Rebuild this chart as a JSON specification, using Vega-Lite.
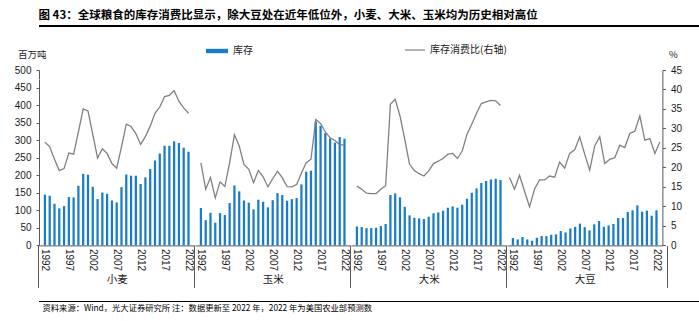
{
  "$schema": "https://vega.github.io/schema/vega-lite/v6.json",
  "padding": {"left": 5, "right": 5, "top": 10, "bottom": 3},
  "background": "#ffffff",
  "datasets": {
    "d": [
      {"crop":"小麦","year":1992,"stock":144.5,"ratio":26.5},{"crop":"小麦","year":1993,"stock":141.6,"ratio":25.3},{"crop":"小麦","year":1994,"stock":118.8,"ratio":22.1},{"crop":"小麦","year":1995,"stock":105.5,"ratio":19.2},{"crop":"小麦","year":1996,"stock":112,"ratio":19.7},{"crop":"小麦","year":1997,"stock":137.8,"ratio":23.7},{"crop":"小麦","year":1998,"stock":136.9,"ratio":23.4},{"crop":"小麦","year":1999,"stock":170,"ratio":29.1},{"crop":"小麦","year":2000,"stock":204,"ratio":35.0},{"crop":"小麦","year":2001,"stock":201.5,"ratio":34.5},{"crop":"小麦","year":2002,"stock":167,"ratio":28.5},{"crop":"小麦","year":2003,"stock":132,"ratio":22.4},{"crop":"小麦","year":2004,"stock":151,"ratio":24.8},{"crop":"小麦","year":2005,"stock":147,"ratio":23.6},{"crop":"小麦","year":2006,"stock":128,"ratio":21.0},{"crop":"小麦","year":2007,"stock":122.6,"ratio":19.8},{"crop":"小麦","year":2008,"stock":166,"ratio":25.3},{"crop":"小麦","year":2009,"stock":202,"ratio":31.1},{"crop":"小麦","year":2010,"stock":198.7,"ratio":30.5},{"crop":"小麦","year":2011,"stock":198.7,"ratio":28.7},{"crop":"小麦","year":2012,"stock":175,"ratio":25.9},{"crop":"小麦","year":2013,"stock":194,"ratio":27.9},{"crop":"小麦","year":2014,"stock":217.7,"ratio":30.6},{"crop":"小麦","year":2015,"stock":242,"ratio":33.9},{"crop":"小麦","year":2016,"stock":262,"ratio":35.5},{"crop":"小麦","year":2017,"stock":284,"ratio":38.2},{"crop":"小麦","year":2018,"stock":284,"ratio":38.5},{"crop":"小麦","year":2019,"stock":296.6,"ratio":39.7},{"crop":"小麦","year":2020,"stock":291.8,"ratio":37.0},{"crop":"小麦","year":2021,"stock":278.5,"ratio":35.3},{"crop":"小麦","year":2022,"stock":267,"ratio":33.9},
      {"crop":"玉米","year":1992,"stock":106.5,"ratio":21.2},{"crop":"玉米","year":1993,"stock":72,"ratio":14.4},{"crop":"玉米","year":1994,"stock":93,"ratio":17.4},{"crop":"玉米","year":1995,"stock":64.6,"ratio":12.2},{"crop":"玉米","year":1996,"stock":92,"ratio":16.3},{"crop":"玉米","year":1997,"stock":86.5,"ratio":15.1},{"crop":"玉米","year":1998,"stock":120.7,"ratio":21.2},{"crop":"玉米","year":1999,"stock":171,"ratio":28.4},{"crop":"玉米","year":2000,"stock":154,"ratio":25.5},{"crop":"玉米","year":2001,"stock":128,"ratio":20.8},{"crop":"玉米","year":2002,"stock":121.7,"ratio":19.5},{"crop":"玉米","year":2003,"stock":102.7,"ratio":16.1},{"crop":"玉米","year":2004,"stock":130,"ratio":19.2},{"crop":"玉米","year":2005,"stock":124.5,"ratio":17.6},{"crop":"玉米","year":2006,"stock":108.4,"ratio":15.0},{"crop":"玉米","year":2007,"stock":129,"ratio":17.1},{"crop":"玉米","year":2008,"stock":149,"ratio":19.0},{"crop":"玉米","year":2009,"stock":143.5,"ratio":17.4},{"crop":"玉米","year":2010,"stock":127.4,"ratio":15.1},{"crop":"玉米","year":2011,"stock":132,"ratio":15.0},{"crop":"玉米","year":2012,"stock":135,"ratio":15.6},{"crop":"玉米","year":2013,"stock":174,"ratio":18.6},{"crop":"玉米","year":2014,"stock":210,"ratio":21.2},{"crop":"玉米","year":2015,"stock":213,"ratio":22.1},{"crop":"玉米","year":2016,"stock":352.7,"ratio":32.3},{"crop":"玉米","year":2017,"stock":341,"ratio":31.3},{"crop":"玉米","year":2018,"stock":320,"ratio":29.1},{"crop":"玉米","year":2019,"stock":305,"ratio":27.6},{"crop":"玉米","year":2020,"stock":292.8,"ratio":26.9},{"crop":"玉米","year":2021,"stock":309,"ratio":25.8},{"crop":"玉米","year":2022,"stock":304,"ratio":25.8},
      {"crop":"大米","year":1992,"stock":54,"ratio":15.2},{"crop":"大米","year":1993,"stock":52.3,"ratio":14.4},{"crop":"大米","year":1994,"stock":49.4,"ratio":13.4},{"crop":"大米","year":1995,"stock":49.4,"ratio":13.3},{"crop":"大米","year":1996,"stock":50.4,"ratio":13.3},{"crop":"大米","year":1997,"stock":55,"ratio":14.4},{"crop":"大米","year":1998,"stock":61,"ratio":15.3},{"crop":"大米","year":1999,"stock":143.5,"ratio":36.2},{"crop":"大米","year":2000,"stock":148.3,"ratio":37.5},{"crop":"大米","year":2001,"stock":137,"ratio":33.2},{"crop":"大米","year":2002,"stock":110,"ratio":27.2},{"crop":"大米","year":2003,"stock":85.6,"ratio":20.8},{"crop":"大米","year":2004,"stock":79,"ratio":19.2},{"crop":"大米","year":2005,"stock":77,"ratio":18.4},{"crop":"大米","year":2006,"stock":75,"ratio":17.8},{"crop":"大米","year":2007,"stock":81.7,"ratio":19.1},{"crop":"大米","year":2008,"stock":91.3,"ratio":21.0},{"crop":"大米","year":2009,"stock":94,"ratio":21.6},{"crop":"大米","year":2010,"stock":98.9,"ratio":22.3},{"crop":"大米","year":2011,"stock":107.4,"ratio":23.4},{"crop":"大米","year":2012,"stock":111.2,"ratio":23.6},{"crop":"大米","year":2013,"stock":107.4,"ratio":22.3},{"crop":"大米","year":2014,"stock":116,"ratio":24.2},{"crop":"大米","year":2015,"stock":133,"ratio":28.5},{"crop":"大米","year":2016,"stock":150,"ratio":31.1},{"crop":"大米","year":2017,"stock":162.5,"ratio":33.9},{"crop":"大米","year":2018,"stock":177.8,"ratio":36.4},{"crop":"大米","year":2019,"stock":183.5,"ratio":36.8},{"crop":"大米","year":2020,"stock":188,"ratio":37.2},{"crop":"大米","year":2021,"stock":190,"ratio":37.1},{"crop":"大米","year":2022,"stock":186.3,"ratio":35.9},
      {"crop":"大豆","year":1992,"stock":20.9,"ratio":17.4},{"crop":"大豆","year":1993,"stock":17,"ratio":14.4},{"crop":"大豆","year":1994,"stock":23.8,"ratio":18.0},{"crop":"大豆","year":1995,"stock":17,"ratio":13.9},{"crop":"大豆","year":1996,"stock":13.3,"ratio":9.9},{"crop":"大豆","year":1997,"stock":21.9,"ratio":14.5},{"crop":"大豆","year":1998,"stock":26.6,"ratio":16.8},{"crop":"大豆","year":1999,"stock":26.6,"ratio":16.8},{"crop":"大豆","year":2000,"stock":30.4,"ratio":17.8},{"crop":"大豆","year":2001,"stock":31.4,"ratio":17.5},{"crop":"大豆","year":2002,"stock":40.9,"ratio":21.4},{"crop":"大豆","year":2003,"stock":37,"ratio":19.8},{"crop":"大豆","year":2004,"stock":48.5,"ratio":23.6},{"crop":"大豆","year":2005,"stock":53,"ratio":24.5},{"crop":"大豆","year":2006,"stock":62,"ratio":27.8},{"crop":"大豆","year":2007,"stock":52,"ratio":23.4},{"crop":"大豆","year":2008,"stock":42.8,"ratio":19.3},{"crop":"大豆","year":2009,"stock":60,"ratio":25.5},{"crop":"大豆","year":2010,"stock":69.4,"ratio":27.9},{"crop":"大豆","year":2011,"stock":53,"ratio":21.0},{"crop":"大豆","year":2012,"stock":57,"ratio":22.1},{"crop":"大豆","year":2013,"stock":61,"ratio":22.5},{"crop":"大豆","year":2014,"stock":78,"ratio":25.7},{"crop":"大豆","year":2015,"stock":78,"ratio":25.1},{"crop":"大豆","year":2016,"stock":95,"ratio":28.7},{"crop":"大豆","year":2017,"stock":100,"ratio":29.3},{"crop":"大豆","year":2018,"stock":114,"ratio":33.2},{"crop":"大豆","year":2019,"stock":96,"ratio":27.0},{"crop":"大豆","year":2020,"stock":99,"ratio":27.4},{"crop":"大豆","year":2021,"stock":84.6,"ratio":23.6},{"crop":"大豆","year":2022,"stock":100,"ratio":26.5}
    ]
  },
  "spacing": 12,
  "vconcat": [
    {
      "spacing": 22,
      "vconcat": [
        {
          "width": 688, "height": 2,
          "data": {"values": [{}]},
          "mark": "rule",
          "encoding": {},
          "view": {"fill": "#000000", "stroke": null},
          "title": {"text": "图 43：全球粮食的库存消费比显示，除大豆处在近年低位外，小麦、大米、玉米均为历史相对高位", "anchor": "start", "orient": "top", "font": "Noto Sans CJK SC", "fontSize": 11.5, "fontWeight": "bold", "color": "#000000", "offset": 3}
        },
        {
          "spacing": 0,
          "bounds": "flush",
          "hconcat": [
            {
              "width": 155.4, "height": 175.4,
              "data": {"name": "d"},
              "transform": [{"filter": "datum.crop == '小麦'"}],
              "encoding": {"x": {"field": "year", "type": "ordinal", "scale": {"paddingInner": 0.53, "paddingOuter": 1.265},
                "axis": {"values": [1992,1997,2002,2007,2012,2017,2022], "labelAngle": 90, "title": "小麦", "titleY": 34, "titleBaseline": "middle", "tickSize": 42, "tickOffset": -7.06, "labelOffset": 7.06, "labelPadding": -39, "tickOpacity": {"condition": {"test": "datum.value == 1992", "value": 1}, "value": 0}}}},
              "layer": [
                {"mark": {"type": "bar"}, "encoding": {
                  "y": {"field": "stock", "type": "quantitative", "scale": {"domain": [0, 500]}, "axis": {"values": [0,50,100,150,200,250,300,350,400,450,500], "title": "百万吨", "titleAngle": 0, "titleX": -21.5, "titleY": -15.5, "titleAlign": "left", "titleBaseline": "middle"}},
                  "color": {"datum": "库存", "scale": {"range": ["#1a7cc8"]}, "legend": {"orient": "none", "legendX": 166, "legendY": 14, "title": null, "symbolType": "M-1,-0.2H1V0.2H-1Z", "symbolSize": 484}}}},
                {"mark": {"type": "line", "strokeWidth": 1.3}, "encoding": {
                  "y": {"field": "ratio", "type": "quantitative", "scale": {"domain": [0, 45]}, "axis": {"orient": "left", "values": [42.75], "domain": false, "labels": false, "ticks": true, "tickSize": 33, "tickColor": "#ffffff", "title": null}},
                  "stroke": {"datum": "库存消费比(右轴)", "scale": {"range": ["#808080"]}, "legend": {"orient": "none", "legendX": 365, "legendY": 14, "title": null, "symbolType": "stroke", "symbolSize": 400, "symbolStrokeWidth": 1.2}}}}
              ],
              "resolve": {"scale": {"y": "independent"}}
            },
            {
              "width": 155.4, "height": 175.4,
              "data": {"name": "d"},
              "transform": [{"filter": "datum.crop == '玉米'"}],
              "encoding": {"x": {"field": "year", "type": "ordinal", "scale": {"paddingInner": 0.53, "paddingOuter": 1.265},
                "axis": {"values": [1992,1997,2002,2007,2012,2017,2022], "labelAngle": 90, "title": "玉米", "titleY": 34, "titleBaseline": "middle", "tickSize": 42, "tickOffset": -7.06, "labelOffset": 7.06, "labelPadding": -39, "tickOpacity": {"condition": {"test": "datum.value == 1992", "value": 1}, "value": 0}}}},
              "layer": [
                {"mark": {"type": "bar"}, "encoding": {
                  "y": {"field": "stock", "type": "quantitative", "scale": {"domain": [0, 500]}, "axis": null},
                  "color": {"datum": "库存"}}},
                {"mark": {"type": "line", "strokeWidth": 1.3}, "encoding": {
                  "y": {"field": "ratio", "type": "quantitative", "scale": {"domain": [0, 45]}, "axis": null},
                  "stroke": {"datum": "库存消费比(右轴)"}}}
              ],
              "resolve": {"scale": {"y": "independent"}}
            },
            {
              "width": 155.4, "height": 175.4,
              "data": {"name": "d"},
              "transform": [{"filter": "datum.crop == '大米'"}],
              "encoding": {"x": {"field": "year", "type": "ordinal", "scale": {"paddingInner": 0.53, "paddingOuter": 1.265},
                "axis": {"values": [1992,1997,2002,2007,2012,2017,2022], "labelAngle": 90, "title": "大米", "titleY": 34, "titleBaseline": "middle", "tickSize": 42, "tickOffset": -7.06, "labelOffset": 7.06, "labelPadding": -39, "tickOpacity": {"condition": {"test": "datum.value == 1992", "value": 1}, "value": 0}}}},
              "layer": [
                {"mark": {"type": "bar"}, "encoding": {
                  "y": {"field": "stock", "type": "quantitative", "scale": {"domain": [0, 500]}, "axis": null},
                  "color": {"datum": "库存"}}},
                {"mark": {"type": "line", "strokeWidth": 1.3}, "encoding": {
                  "y": {"field": "ratio", "type": "quantitative", "scale": {"domain": [0, 45]}, "axis": null},
                  "stroke": {"datum": "库存消费比(右轴)"}}}
              ],
              "resolve": {"scale": {"y": "independent"}}
            },
            {
              "width": 155.4, "height": 175.4,
              "data": {"name": "d"},
              "transform": [{"filter": "datum.crop == '大豆'"}],
              "layer": [
                {"mark": {"type": "bar"}, "encoding": {
                  "x": {"field": "year", "type": "ordinal", "scale": {"paddingInner": 0.53, "paddingOuter": 1.265},
                    "axis": {"orient": "bottom", "values": [1992,1997,2002,2007,2012,2017,2022], "labelAngle": 90, "title": "大豆", "titleY": 34, "titleBaseline": "middle", "tickSize": 42, "tickOffset": -7.06, "labelOffset": 7.06, "labelPadding": -39, "tickOpacity": {"condition": {"test": "datum.value == 1992", "value": 1}, "value": 0}}},
                  "y": {"field": "stock", "type": "quantitative", "scale": {"domain": [0, 500]}, "axis": null},
                  "color": {"datum": "库存"}}},
                {"mark": {"type": "line", "strokeWidth": 1.3}, "encoding": {
                  "x": {"field": "year", "type": "ordinal", "scale": {"paddingInner": 0.53, "paddingOuter": 1.265},
                    "axis": {"orient": "bottom", "values": [2022], "labels": false, "domain": false, "title": null, "tickSize": 42, "tickOffset": 7.06}},
                  "y": {"field": "ratio", "type": "quantitative", "scale": {"domain": [0, 45]}, "axis": {"orient": "right", "values": [0,5,10,15,20,25,30,35,40,45], "title": "%", "titleAngle": 0, "titleX": 6, "titleY": -15.5, "titleAlign": "left", "titleBaseline": "middle"}},
                  "stroke": {"datum": "库存消费比(右轴)"}}}
              ],
              "resolve": {"scale": {"y": "independent", "x": "independent"}}
            }
          ]
        }
      ]
    },
    {
      "width": 688, "height": 1,
      "data": {"values": [{}]},
      "mark": "rule",
      "encoding": {},
      "view": {"fill": "#000000", "stroke": null},
      "title": {"text": "资料来源：Wind，光大证券研究所 注：数据更新至 2022 年，2022 年为美国农业部预测数", "anchor": "start", "orient": "bottom", "font": "Noto Sans CJK SC", "fontSize": 8.3, "fontWeight": "normal", "color": "#000000", "offset": 2, "dx": 4}
    }
  ],
  "config": {
    "font": "Noto Sans CJK SC",
    "view": {"stroke": null},
    "axis": {"labelFont": "Liberation Sans", "labelFontSize": 10, "labelColor": "#1a1a1a", "titleFont": "Noto Sans CJK SC", "titleFontSize": 9.5, "titleFontWeight": "normal", "titleColor": "#1a1a1a", "domainColor": "#595959", "tickColor": "#595959", "grid": false, "tickSize": 3, "labelPadding": 5},
    "axisX": {"titleFontSize": 10.5},
    "legend": {"labelFont": "Noto Sans CJK SC", "labelFontSize": 10, "labelColor": "#1a1a1a", "direction": "horizontal"}
  }
}
